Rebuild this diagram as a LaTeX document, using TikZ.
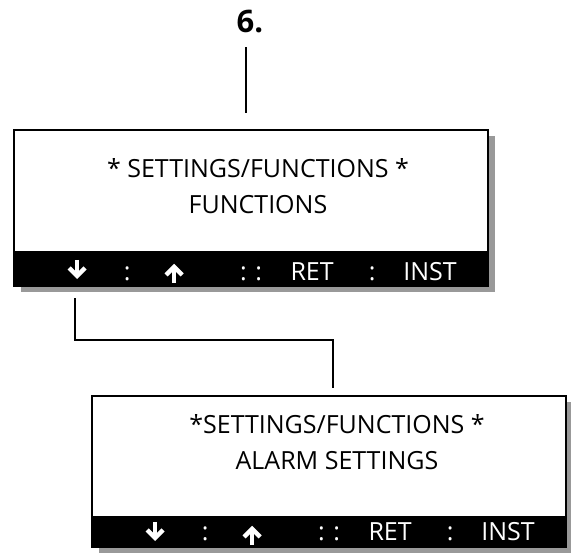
\documentclass[tikz,border=0pt]{standalone}
\usepackage{fontspec}
\setmainfont{Open Sans}
\usetikzlibrary{shadows}

\begin{document}
\begin{tikzpicture}[
    x=1pt,
    y=-1pt,
    font=\fontsize{25}{30}\selectfont,
    screen/.style={
        draw,
        line width=1.8pt,
        fill=white,
        inner sep=0pt,
        minimum width=474pt,
        drop shadow={
            shadow xshift=7pt,
            shadow yshift=-6pt,
            fill=black!40,
            opacity=1
        }
    },
    line/.style={
        anchor=base
    },
    key/.style={
        anchor=base,
        text=white
    },
    wire/.style={
        line width=1.8pt
    },
    keydown/.pic={
        \draw[white, line width=4.4pt] (0,-10) -- (0,4);
        \draw[white, line width=4.4pt, line join=miter] (-8,-2) -- (0,6) -- (8,-2);
    },
    keyup/.pic={
        \draw[white, line width=4.4pt] (0,10) -- (0,-4);
        \draw[white, line width=4.4pt, line join=miter] (-8,2) -- (0,-6) -- (8,2);
    }
]

\useasboundingbox (0,0) rectangle (571,555);

% Step number
\node[
    anchor=base,
    font=\fontsize{31}{36}\selectfont\bfseries
] (num) at (250,32) {6.};

\coordinate (top1) at (246,47);
\coordinate (top2) at (246,113);

\draw[
    wire
] (top1) -- (top2);


% Screen 1
\node[
    screen,
    minimum height=156pt
] (scr1) at (251,208) {};

\fill (scr1.south west) rectangle ([yshift=36pt]scr1.south east);

\node[line] (t11) at (258,177) {* SETTINGS/FUNCTIONS *};
\node[line] (t12) at (258,213) {FUNCTIONS};

\pic at ([xshift=64pt, yshift=17pt]scr1.south west) {keydown};
\pic at ([xshift=161pt, yshift=14pt]scr1.south west) {keyup};

\foreach \x/\t [count=\i] in {114/:, 238/{: :}, 299/RET, 359/:, 417/INST} {
    \node[key] (k1\i) at ([xshift=\x pt, yshift=6pt]scr1.south west) {\t};
}


% Connector between screens
\coordinate (down1) at (75,298);
\coordinate (down2) at (333,388);

\draw[
    wire
] (down1) -- (75,340) -| (down2);


% Screen 2
\node[
    screen,
    minimum height=151pt
] (scr2) at (329,471.5) {};

\fill (scr2.south west) rectangle ([yshift=32pt]scr2.south east);

\node[line] (t21) at (337,433) {*SETTINGS/FUNCTIONS *};
\node[line] (t22) at (337,469) {ALARM SETTINGS};

\pic at ([xshift=64pt, yshift=16pt]scr2.south west) {keydown};
\pic at ([xshift=161pt, yshift=13pt]scr2.south west) {keyup};

\foreach \x/\t [count=\i] in {114/:, 238/{: :}, 299/RET, 359/:, 417/INST} {
    \node[key] (k2\i) at ([xshift=\x pt, yshift=7pt]scr2.south west) {\t};
}

\end{tikzpicture}
\end{document}
